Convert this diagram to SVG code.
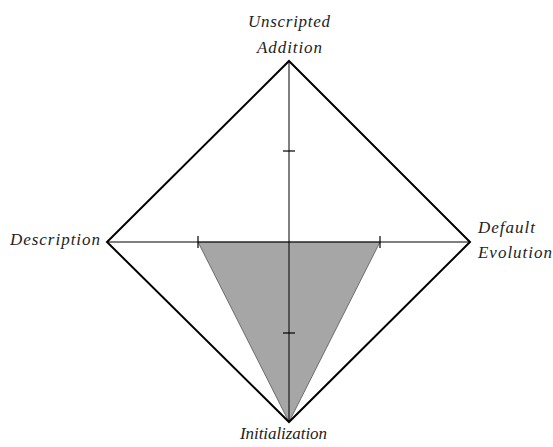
<svg xmlns="http://www.w3.org/2000/svg" width="553" height="447" viewBox="0 0 553 447">
<style>
.lbl{font-family:"Liberation Serif","DejaVu Serif",serif;font-style:italic;font-size:17px;fill:#222}
.ax{stroke:#000;stroke-width:1;fill:none}
.tk{stroke:#000;stroke-width:1.2}
.dia{stroke:#000;stroke-width:2;fill:none;stroke-linejoin:miter}
</style>
<rect width="553" height="447" fill="#fff"/>
<g id="area">
<polygon points="198,242 380,242 289,422" fill="#a6a6a6" stroke="#555" stroke-width="0.8"/>
</g>
<g id="connectors">
<line class="ax" x1="289" y1="61" x2="289" y2="422"/>
<line class="ax" x1="107" y1="242" x2="470" y2="242"/>
<line class="tk" x1="283" y1="151" x2="295" y2="151"/>
<line class="tk" x1="283" y1="333" x2="295" y2="333"/>
<line class="tk" x1="198" y1="236" x2="198" y2="248"/>
<line class="tk" x1="380" y1="236" x2="380" y2="248"/>
<polygon class="dia" points="289,61 470,242 289,422 107,242"/>
</g>
<g id="top"><text class="lbl" x="248" y="27" textLength="82" lengthAdjust="spacing">Unscripted</text><text class="lbl" x="257" y="53" textLength="65" lengthAdjust="spacing">Addition</text></g>
<g id="left"><text class="lbl" x="10" y="245" textLength="90" lengthAdjust="spacing">Description</text></g>
<g id="right"><text class="lbl" x="478" y="233" textLength="57" lengthAdjust="spacing">Default</text><text class="lbl" x="478" y="258" textLength="74" lengthAdjust="spacing">Evolution</text></g>
<g id="bottom"><text class="lbl" x="240" y="439" textLength="87" lengthAdjust="spacing">Initialization</text></g>
</svg>
